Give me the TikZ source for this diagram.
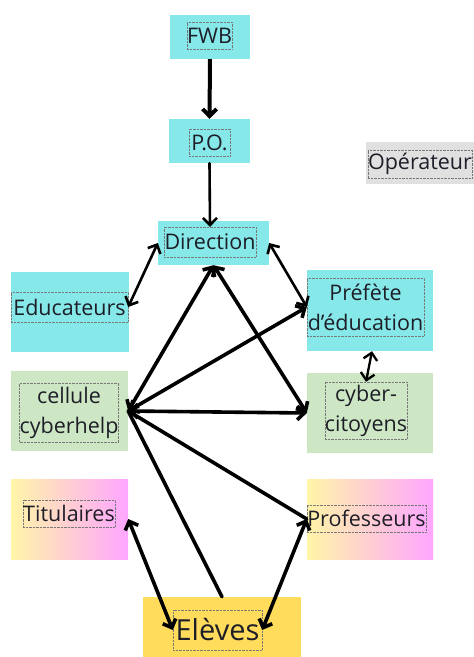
\documentclass[tikz,border=0pt]{standalone}
\usepackage{fontspec}
\setmainfont{Open Sans}
\usetikzlibrary{arrows.meta}

\definecolor{boxcyan}{RGB}{134,232,232}
\definecolor{boxgreen}{RGB}{205,231,196}
\definecolor{boxgold}{RGB}{255,220,92}
\definecolor{boxgrey}{RGB}{224,224,224}
\definecolor{tintyellow}{RGB}{255,245,168}
\definecolor{tintpink}{RGB}{255,166,255}
\definecolor{framegrey}{RGB}{120,120,120}
\definecolor{ink}{RGB}{30,30,40}

\tikzset{
    box/.style={rectangle, inner sep=0pt},
    cyanbox/.style={box, fill=boxcyan},
    greenbox/.style={box, fill=boxgreen},
    tintbox/.style={box, left color=tintyellow, right color=tintpink},
    txt/.style={rectangle, draw=framegrey, densely dotted, inner sep=0pt, text=ink,
        align=center, font=\fontsize{21.5}{30}\selectfont},
    link/.style={line width=3.6pt, line cap=round},
    thinlink/.style={line width=2.6pt, line cap=round}
}

\begin{document}
\begin{tikzpicture}[x=1pt, y=-1pt, >={Straight Barb[length=7pt, width=14pt]}]
        \useasboundingbox (0, 0) rectangle (474, 657);

        % boxes
        \node [cyanbox, minimum width=80, minimum height=44] (fwb) at (210, 37) {};
        \node [cyanbox, minimum width=81, minimum height=44] (po) at (209.5, 141) {};
        \node [cyanbox, minimum width=111, minimum height=44] (dir) at (213.5, 243) {};
        \node [cyanbox, minimum width=118, minimum height=80] (edu) at (70, 312) {};
        \node [cyanbox, minimum width=126, minimum height=81] (pref) at (370, 310.5) {};
        \node [greenbox, minimum width=117, minimum height=80] (cell) at (69.5, 411) {};
        \node [greenbox, minimum width=126, minimum height=80] (cyb) at (370, 413) {};
        \node [tintbox, minimum width=117, minimum height=80] (tit) at (69.5, 519) {};
        \node [tintbox, minimum width=126, minimum height=80] (prof) at (370, 519) {};
        \node [box, fill=boxgold, minimum width=158, minimum height=60] (elev) at (222, 627) {};
        \node [box, fill=boxgrey, minimum width=108, minimum height=42] (op) at (420, 163) {};

        % texts
        \node [txt, minimum width=45, minimum height=27] (fwbt) at (209.5, 35.5) {FWB};
        \node [txt, minimum width=41, minimum height=27] (pot) at (209.5, 142.5) {P.O.};
        \node [txt, minimum width=92, minimum height=30] (dirt) at (210, 242) {Direction};
        \node [txt, minimum width=117, minimum height=30] (edut) at (69.5, 307) {Educateurs};
        \node [txt, minimum width=117, minimum height=58] (preft) at (365.5, 307) {Préfète\\d’éducation};
        \node [txt, minimum width=98, minimum height=59] (cellt) at (69, 412.5) {cellule\\cyberhelp};
        \node [txt, minimum width=82, minimum height=57] (cybt) at (366, 410.5) {cyber-\\citoyens};
        \node [txt, minimum width=92, minimum height=27] (titt) at (69, 513.5) {Titulaires};
        \node [txt, minimum width=119, minimum height=27] (proft) at (366.5, 518.5) {Professeurs};
        \node [txt, minimum width=89, minimum height=40, font=\fontsize{29}{30}\selectfont] (elevt) at (217.5, 630) {Elèves};
        \node [txt, minimum width=104, minimum height=28] (opt) at (420, 164) {Opérateur};

        % links
        \draw [->, line width=4pt] (fwb.south) -- (po.north);
        \draw [->, thinlink] (po.south) -- (dirt.north);
        \draw [<->, thinlink] (dir.west) -- (edut.east);
        \draw [<->, thinlink] (dir.east) -- (preft.west);
        \draw [<->, line width=2.3pt] ([xshift=2]pref.south) -- (cybt.north);
        \draw [<->, link] (cell.east) -- (dir.south);
        \draw [<->, link] (dir.south) -- (cyb.west);
        \draw [<->, link] (cell.east) -- (preft.west);
        \draw [<->, link] (cell.east) -- (cyb.west);
        \draw [link] (cell.east) -- (prof.west);
        \draw [link] (elev.north) -- (cell.east);
        \draw [<->, link] (tit.east) -- (elevt.west);
        \draw [<->, link] (prof.west) -- (elevt.east);
    \end{tikzpicture}
\end{document}
